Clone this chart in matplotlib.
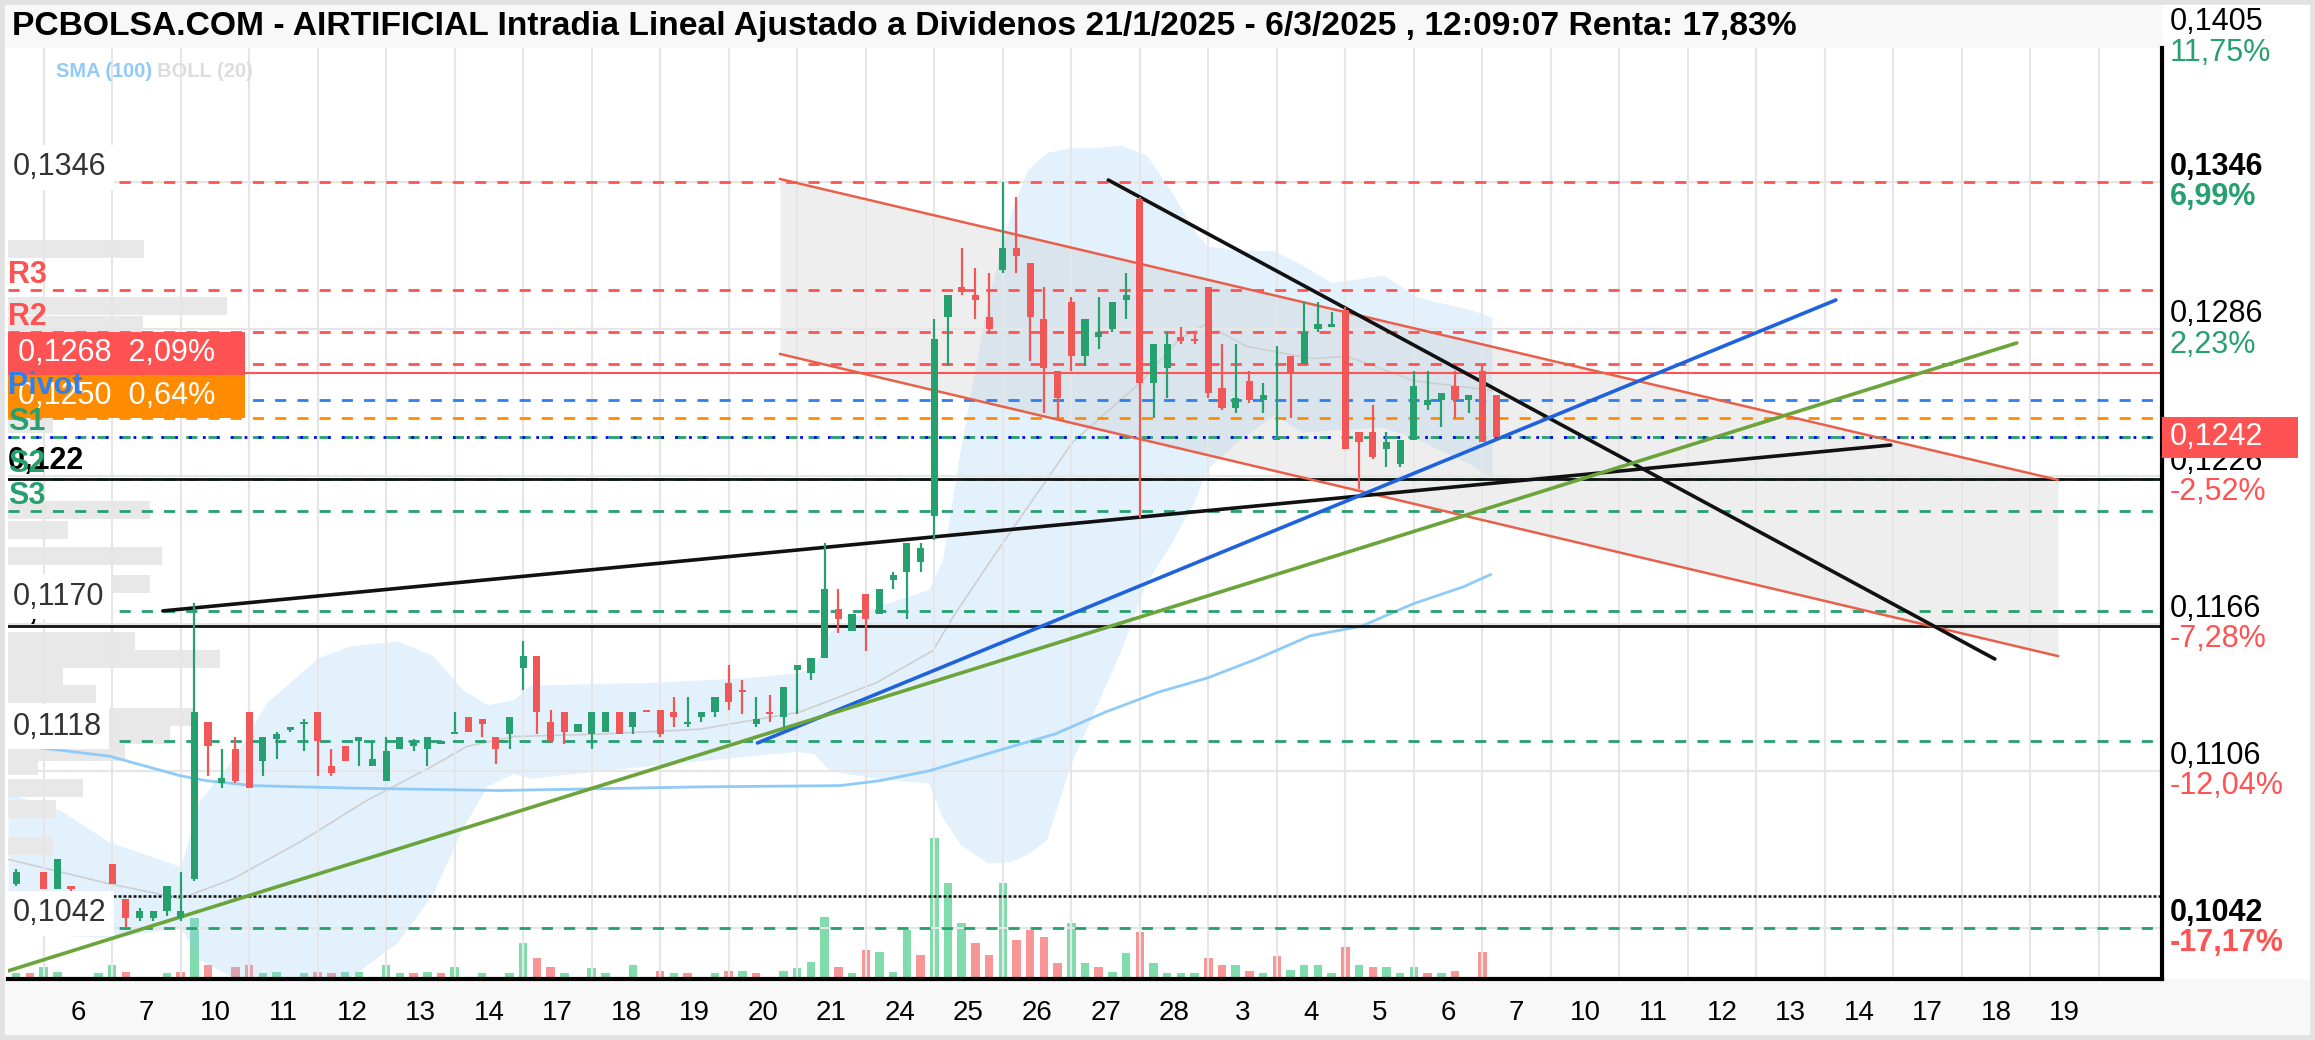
import numpy as np
import matplotlib
matplotlib.use("Agg")
import matplotlib.pyplot as plt
from matplotlib.patches import Rectangle
from matplotlib.transforms import blended_transform_factory

plt.rcParams["font.family"] = ["Liberation Sans", "DejaVu Sans"]
ESTRECHA = ["Liberation Sans Narrow", "Liberation Sans", "DejaVu Sans"]

titulo = ("PCBOLSA.COM - AIRTIFICIAL Intradia Lineal Ajustado a Dividenos "
          "21/1/2025 - 6/3/2025 , 12:09:07 Renta: 17,83%")

# etiquetas de dias del eje x (una por sesion)
dias = ["6", "7", "10", "11", "12", "13", "14", "17", "18", "19", "20", "21", "24", "25",
        "26", "27", "28", "3", "4", "5", "6", "7", "10", "11", "12", "13", "14", "17", "18", "19"]

# velas intradia: 5 franjas por sesion, franja -2 .. 106
franjas = list(range(-2, 107))
apertura = [.1060, .1052, .1065, .1058, .1059, .1052, .1050, .1068, .1054, .1046,
            .1046, .1049, .1046, .1062, .1126, .1101, .1115, .1130, .1110, .1119,
            .11225, .1125, .1130, .1108, .1116, .1118, .1108, .1102, .1115, .1116,
            .1115, .1117, .1121, .1128, .1127, .1120, .1121, .1148, .1153, .1126,
            .1130, .1122, .1121, .1122, .1130, .1124, .1131, .1131, .1130, .1125,
            .1128, .1130, .1142, .1139, .1125, .1130, .1128, .1147, .1146, .1152,
            .1172, .1163, .1178, .1170, .1184, .1187, .1191, .1210, .1291, .1303,
            .1300, .1291, .1310, .1319, .1313, .1290, .1269, .1297, .1275, .1283,
            .1286, .1298, .1339, .1264, .1270, .1283, .1282, .1303, .1262, .1254,
            .1265, .1257, .1241, .1275, .1272, .1286, .1287, .1294, .1244, .1244,
            .1237, .1231, .1241, .1255, .1257, .1263, .1257, .1269, .1259]
maximo = [.1066, .1054, .1065, .1070, .1059, .1053, .1054, .1068, .1054, .1050,
          .1049, .1059, .1065, .11745, .1126, .1115, .1120, .1130, .1120, .1122,
          .1124, .1127, .1130, .1115, .1116, .1120, .1118, .1120, .1120, .1119,
          .1120, .1118, .1130, .1128, .1127, .1120, .1128, .1159, .1153, .1131,
          .1130, .1125, .1130, .1130, .1130, .1130, .1131, .1131, .1136, .1136,
          .1130, .1136, .1149, .1143, .1136, .1137, .1140, .1149, .1152, .1199,
          .1180, .1170, .1178, .1180, .1187, .1199, .1199, .1290, .1300, .1319,
          .1311, .1309, .1346, .1340, .1313, .1303, .1269, .1299, .1290, .1299,
          .1297, .1309, .1340, .1280, .1285, .1287, .1284, .1303, .1280, .1280,
          .1269, .1264, .1279, .1275, .1297, .1297, .1293, .1295, .1244, .1255,
          .1244, .1241, .1269, .1269, .1260, .1269, .1259, .1271, .1259]
minimo = [.1059, .1049, .1058, .1058, .1057, .1049, .1049, .1060, .1042, .1045,
          .1045, .1047, .1045, .1061, .1104, .1099, .1101, .1099, .1104, .1111,
          .1122, .1114, .1104, .1104, .1110, .1108, .1108, .1102, .1115, .1114,
          .1108, .1117, .1121, .1122, .1120, .1109, .1115, .1139, .1121, .1118,
          .1117, .1122, .1115, .1122, .1121, .1121, .1130, .1120, .1124, .1124,
          .1126, .1128, .1131, .1129, .1124, .1126, .1124, .1129, .1143, .1152,
          .1162, .1163, .1155, .1170, .1180, .1168, .1187, .1200, .1271, .1300,
          .1290, .1284, .1309, .1309, .1273, .1252, .1250, .1269, .1271, .1278,
          .1285, .1290, .1209, .1250, .1258, .1280, .1280, .1258, .1253, .1252,
          .1256, .1252, .1241, .1250, .1272, .1285, .1287, .1237, .1221, .1233,
          .1230, .1230, .1241, .1253, .1246, .1250, .1252, .1240, .1242]
cierre = [.1065, .1050, .1058, .1070, .1058, .1050, .1053, .1060, .1046, .1049,
          .1049, .1059, .1049, .1130, .1116, .1103, .1102, .1099, .1120, .1121,
          .1124, .1126, .1118, .1105, .1110, .1120, .1111, .1114, .1120, .1118,
          .1120, .1118, .1122, .1122, .1125, .1115, .1128, .1153, .1130, .1118,
          .1122, .1125, .1130, .1130, .1121, .1130, .1130, .1121, .1128, .1126,
          .1130, .1136, .1134, .1138, .1127, .1129, .1140, .1149, .1152, .1180,
          .1168, .1170, .1168, .1180, .1186, .1199, .1197, .1282, .1300, .1301,
          .1298, .1286, .1319, .1316, .1291, .1270, .1258, .1275, .1290, .1285,
          .1297, .1300, .1264, .1280, .1280, .1281, .1281, .1260, .1254, .1258,
          .1257, .1259, .1242, .1268, .1285, .1288, .1288, .1237, .1240, .1234,
          .1240, .1241, .1263, .1257, .1260, .1257, .1259, .1240, .1242]
# volumen en miles de titulos
volumen = [6, 6, 12, 7, 1, 2, 6, 14, 7, 2, 2, 6, 7, 61, 14, 2, 12, 14, 6, 7,
           2, 6, 7, 6, 7, 7, 2, 14, 6, 6, 7, 6, 12, 2, 6, 2, 6, 36, 21, 12,
           6, 2, 11, 6, 2, 14, 2, 8, 6, 6, 2, 6, 8, 8, 6, 2, 8, 11, 17, 62,
           12, 6, 29, 27, 7, 49, 24, 141, 96, 56, 36, 24, 96, 39, 49, 42, 16, 56, 16, 12,
           7, 26, 47, 16, 6, 6, 6, 21, 14, 14, 8, 6, 23, 9, 14, 14, 6, 32, 14, 12,
           12, 6, 12, 6, 6, 8, 2, 27, 2]

# bandas de Bollinger (20) y media movil (100)
boll_x = [-2.6, 1.2, 4.8, 8.5, 10.0, 11.4, 13.8, 16.3, 20.0, 22.4, 25.8, 28.4, 30.6, 32.4,
          34.3, 35.5, 44.0, 51.3, 55.0, 56.2, 57.4, 60.8, 64.6, 65.6, 66.9, 68.9, 70.5, 71.8,
          73.2, 74.9, 76.8, 78.6, 80.5, 82.2, 84.0, 84.9, 87.3, 89.8, 91.9, 94.0, 97.8, 100.3,
          104.1, 105.7]
boll_sup = [0.1097, 0.1090, 0.1077, 0.1070, 0.1067, 0.1094, 0.1111, 0.1134, 0.1152, 0.1157,
            0.1159, 0.1153, 0.1139, 0.1133, 0.1135, 0.1141, 0.1142, 0.1144, 0.1146, 0.1148,
            0.1163, 0.1173, 0.1180, 0.1192, 0.1237, 0.1298, 0.1332, 0.1351, 0.1358, 0.1360,
            0.1360, 0.1361, 0.1357, 0.1343, 0.1326, 0.1320, 0.1318, 0.1318, 0.1312, 0.1305,
            0.1308, 0.1299, 0.1294, 0.1291]
boll_inf = [0.1041, 0.1039, 0.1038, 0.1041, 0.1042, 0.1029, 0.1022, 0.1021, 0.1021, 0.1022,
            0.1036, 0.1056, 0.1083, 0.1100, 0.1105, 0.1103, 0.1108, 0.1112, 0.1114, 0.1113,
            0.1106, 0.1103, 0.1101, 0.1087, 0.1076, 0.10685, 0.1069, 0.1072, 0.1078, 0.1108,
            0.1132, 0.1155, 0.1183, 0.1198, 0.1216, 0.1229, 0.1241, 0.1251, 0.1244, 0.1245,
            0.1246, 0.1241, 0.1231, 0.1225]
med_x = [-2.6, 4.8, 10.0, 13.8, 18.7, 23.6, 28.4, 30.9, 34.3, 40.6, 47.9, 55.2, 60.8, 64.9,
         66.4, 69.4, 75.1, 80.0, 82.9, 84.8, 87.8, 92.6, 95.1, 100.0, 105.7]
boll_med = [0.1070, 0.1060, 0.1054, 0.1062, 0.1077, 0.1094, 0.1108, 0.1116, 0.1120, 0.1121,
            0.1123, 0.1130, 0.1142, 0.1155, 0.1169, 0.1194, 0.1240, 0.1264, 0.1282, 0.1288,
            0.1279, 0.1274, 0.1275, 0.1265, 0.1261]
sma_x = [-2.6, 4.8, 10.0, 11.9, 15.3, 22.4, 33.3, 47.9, 58.1, 61.0, 64.6, 70.1, 73.8, 77.5,
         81.3, 85.0, 88.7, 92.4, 96.2, 99.9, 103.6, 105.6]
sma = [0.1117, 0.1112, 0.1104, 0.1102, 0.1100, 0.1099, 0.1098, 0.10995, 0.1100, 0.1102,
       0.1106, 0.1115, 0.1121, 0.1130, 0.1138, 0.1144, 0.1152, 0.1161, 0.1165, 0.1174,
       0.1181, 0.1186]

# perfil de volumen por precio (barras grises a la izquierda)
perfil_precio = [0.13187, 0.12955, 0.12877, 0.12474, 0.12123, 0.12042, 0.11936, 0.11822,
                 0.11590, 0.11516, 0.11443, 0.11374, 0.11280, 0.11207, 0.11137, 0.11080,
                 0.10991, 0.10905, 0.10754]
perfil_vol = [136, 220, 135, 45, 142, 60, 155, 142, 127, 213, 55, 88, 187, 163, 117, 30, 75, 48, 45]

# lineas de tendencia dibujadas: (x0, y0, x1, y1, color)
tendencias = [
    (8.7, 0.11712, 134.8, 0.12388, "#111111"),
    (77.7, 0.13468, 142.4, 0.11516, "#111111"),
    (52.1, 0.11174, 130.8, 0.12979, "#1f63dc"),
    (-2.6, 0.10245, 144.0, 0.12804, "#6aa43a"),
]
canal_x = [53.75, 147.0]
canal_sup = [0.13472, 0.12246]
canal_inf = [0.12759, 0.11528]

# niveles horizontales discontinuos (pivotes y soportes)
niveles_rojos = [0.1346, 0.1302, 0.1285, 0.1272]
nivel_pivot = 0.1257
nivel_naranja = 0.1250
niveles_verdes = [0.1242, 0.1225, 0.1212, 0.1171, 0.1118, 0.1042]
nivel_rojo_solido = 0.1268
niveles_negros = [0.1225, 0.1165]
nivel_punteado = 0.1055
ultimo = 0.1242

# escala de la derecha
ticks_der = [0.1405, 0.1346, 0.1286, 0.1226, 0.1166, 0.1106, 0.1042]
pct_der = ["11,75%", "6,99%", "2,23%", "-2,52%", "-7,28%", "-12,04%", "-17,17%"]
negrita_der = [False, True, False, False, False, False, True]

verde, rojo = "#26a06e", "#f25757"
verde_vol, rojo_vol = "#80dcab", "#f89696"
rojo_niv, azul_niv, naranja, verde_niv = "#ff5252", "#2f80ed", "#ff8c00", "#26a06e"

W, H = 2315, 1040
fig = plt.figure(figsize=(W / 100, H / 100), dpi=100)
fig.patch.set_facecolor("white")
fig.add_artist(Rectangle((4 / W, 1 - 48 / H), 2158 / W, 44 / H, transform=fig.transFigure,
                         fc="#f8f8f8", ec="none", zorder=0))
fig.add_artist(Rectangle((4 / W, 4 / H), (W - 8) / W, 57 / H, transform=fig.transFigure,
                         fc="#f8f8f8", ec="none", zorder=0))
fig.add_artist(Rectangle((0.001, 0.002), 0.998, 0.996, transform=fig.transFigure,
                         fill=False, ec="#e2e2e2", lw=4, zorder=10))

rect = [8 / W, 61 / H, 2154 / W, 931 / H]
ax = fig.add_axes(rect)
ax_vol = ax.twinx()
ax.set_zorder(2)
ax_vol.set_zorder(1)
ax.patch.set_visible(False)

x = np.array(franjas)
o, hi, lo, c = map(np.array, (apertura, maximo, minimo, cierre))
ymin, ymax = 0.10212, 0.14006
xmin, xmax = -2.6, 154.6

# volumen
sube_vol = np.r_[True, c[1:] >= c[:-1]]
ax_vol.bar(x, volumen, width=0.62, color=np.where(sube_vol, verde_vol, rojo_vol), lw=0)
ax_vol.set_ylim(0, 931)
ax_vol.axis("off")

# bandas, canal y perfil
ax.fill_between(boll_x, boll_inf, boll_sup, color="#90caf9", alpha=0.25, lw=0, zorder=1)
ax.plot(med_x, boll_med, color="#cfcfcf", lw=1.2, zorder=1.4)
ax.plot(sma_x, sma, color="#90caf9", lw=2, zorder=1.6)
ax.fill_between(canal_x, canal_inf, canal_sup, color="#c8c8c8", alpha=0.3, lw=0, zorder=1.1)
ax.plot(canal_x, canal_sup, color="#e8604a", lw=1.8, zorder=3)
ax.plot(canal_x, canal_inf, color="#e8604a", lw=1.8, zorder=3)
escala_perfil = 16.0 / max(perfil_vol)
ax.barh(perfil_precio, np.array(perfil_vol) * escala_perfil, left=xmin, height=0.00073,
        color="#e8e8e8", lw=0, zorder=1.3)

# niveles horizontales
guion = (0, (4, 4))
for v in niveles_rojos:
    ax.axhline(v, color=rojo_niv, lw=2, ls=guion, zorder=2)
ax.axhline(nivel_pivot, color=azul_niv, lw=2, ls=guion, zorder=2)
ax.axhline(nivel_naranja, color=naranja, lw=2, ls=guion, zorder=2)
for v in niveles_verdes:
    ax.axhline(v, color=verde_niv, lw=2, ls=guion, zorder=2)
ax.axhline(ultimo, color="#0000ff", lw=2, ls=(0, (1, 4)), zorder=2.1)
ax.axhline(nivel_rojo_solido, color=rojo_niv, lw=1.5, zorder=2)
for v in niveles_negros:
    ax.axhline(v, color="#111111", lw=2, zorder=2.2)
ax.axhline(nivel_punteado, color="#111111", lw=1.8, ls=(0, (1.2, 0.8)), zorder=2)

for x0, y0, x1, y1, col in tendencias:
    ax.plot([x0, x1], [y0, y1], color=col, lw=2.6, solid_capstyle="round", zorder=3)

# velas
col = np.where(c >= o, verde, rojo)
ax.vlines(x, lo, hi, colors=col, lw=1.6, zorder=4)
ax.bar(x, np.maximum(np.abs(c - o), 0.00008), bottom=np.minimum(o, c), width=0.52,
       color=col, lw=0, zorder=4)

# ticks primero: set_xticks/set_yticks amplian los limites si quedan fuera
ax.set_xticks(np.arange(len(dias)) * 5 + 2.5)
ax.set_xticklabels(dias, family=ESTRECHA, fontsize=20)
ax.set_xticks(np.arange(0, 31) * 5, minor=True)
ax.set_yticks(ticks_der)
ax.set_xlim(xmin, xmax)
ax.set_ylim(ymin, ymax)
ax.tick_params(axis="x", which="both", length=0, pad=15)
ax.tick_params(axis="y", length=0, labelleft=False, labelright=False)
ax.grid(which="minor", axis="x", color="#e6e6e6", lw=1.5)
ax.grid(which="major", axis="y", color="#e6e6e6", lw=1.5)
for lado in ("top", "left"):
    ax.spines[lado].set_visible(False)
for lado in ("bottom", "right"):
    ax.spines[lado].set_linewidth(3)
    ax.spines[lado].set_color("black")

tr = blended_transform_factory(ax.transAxes, ax.transData)
d = 0.00060

# escala derecha
for v, p, b in zip(ticks_der, pct_der, negrita_der):
    peso = "bold" if b else "normal"
    ax.text(1.0037, v + d, f"{v:.4f}".replace(".", ","), transform=tr, va="center",
            fontsize=22, weight=peso, clip_on=False)
    ax.text(1.0037, v - d * 1.05, p, transform=tr, va="center", fontsize=22, weight=peso,
            color=rojo_niv if p.startswith("-") else verde_niv, clip_on=False)
ax.add_patch(Rectangle((1.0, ultimo - 0.00084), 0.063, 0.00168, transform=tr, fc="#ff5252",
                       ec="none", clip_on=False, zorder=7))
ax.text(1.0037, ultimo, f"{ultimo:.4f}".replace(".", ","), transform=tr, va="center",
        fontsize=22, color="white", clip_on=False, zorder=8)

# etiquetas de la izquierda
caja_blanca = dict(boxstyle="square,pad=0.25", fc="white", ec="none")
ax.text(0.002, 0.1165 + d, "0,1165", transform=tr, va="center", fontsize=22, weight="bold",
        zorder=6)
for v in (0.1346, 0.1171, 0.1118, 0.1042):
    ax.text(0.002, v + d, f"{v:.4f}".replace(".", ",").replace("1171", "1170"), transform=tr,
            va="center", fontsize=22, color="#333333", bbox=caja_blanca, zorder=6)

ax.add_patch(Rectangle((0, 0.12675), 0.110, 0.00175, transform=tr, fc="#ff5252", ec="none",
                       zorder=5))
ax.add_patch(Rectangle((0, 0.1250), 0.110, 0.00175, transform=tr, fc=naranja, ec="none",
                       zorder=5))
ax.text(0.0046, 0.12675 + 0.00088, "0,1268  2,09%", transform=tr, va="center", fontsize=22,
        color="white", zorder=6)
ax.text(0.0046, 0.1250 + 0.00088, "0,1250  0,64%", transform=tr, va="center", fontsize=22,
        color="white", zorder=6)

ax.text(0.0, 0.1225 + d * 1.2, "0,122", transform=tr, va="center", fontsize=22,
        weight="bold", zorder=6)
pivotes = [("R3", 0.1302, rojo_niv), ("R2", 0.1285, rojo_niv), ("Pivot", 0.1257, azul_niv),
           ("S1", 0.1242, verde_niv), ("S2", 0.1225, verde_niv), ("S3", 0.1212, verde_niv)]
for nombre, v, colr in pivotes:
    ax.text(0.0, v + d, nombre, transform=tr, va="center", fontsize=22, weight="bold",
            color=colr, zorder=6.5)

# leyenda de indicadores y titulo, ajustados al ancho que ocupan en la captura
t_sma = ax.text(0.0223, 0.975, "SMA (100)", transform=ax.transAxes, va="center", fontsize=17,
                weight="bold", color="#90caf9", family=ESTRECHA)
t_boll = ax.text(0.0692, 0.975, "BOLL (20)", transform=ax.transAxes, va="center", fontsize=17,
                 weight="bold", color="#dddddd", family=ESTRECHA)
t_tit = fig.text(12 / W, 1 - 26 / H, titulo, va="center", fontsize=24, weight="bold",
                 family=ESTRECHA)

rend = fig.canvas.get_renderer()
for t, ancho in ((t_sma, 96), (t_boll, 96), (t_tit, 1786)):
    w = t.get_window_extent(renderer=rend).width
    t.set_fontsize(t.get_fontsize() * ancho / w)

fig.savefig("out.png", dpi=100)
